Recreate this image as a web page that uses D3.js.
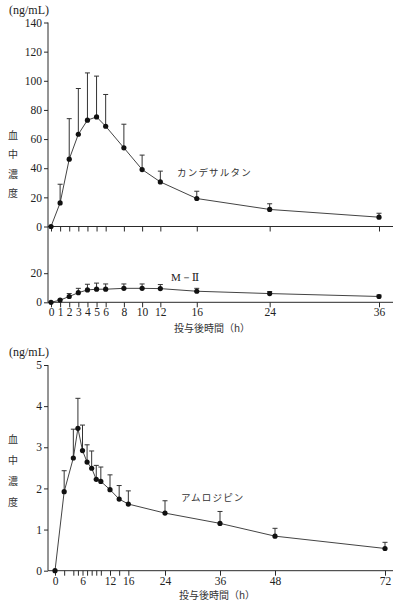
<!DOCTYPE html>
<html><head><meta charset="utf-8">
<script src="https://cdn.jsdelivr.net/npm/d3@7"></script>
<style>
html,body{margin:0;padding:0;background:#fff;}
svg{display:block;}
</style></head>
<body>
<script>
// Candesartan (upper chart)
const candTimes = [0,1,2,3,4,5,6,8,10,12,16,24,36];
const candMean  = [0,16.2,46.2,63.3,73,75.2,68.8,54,39.1,30.6,19.2,11.7,6.4];
const candSD    = [0,29,74,94.7,105.4,103.2,90.6,70.2,49,38,24.2,15.6,9.1]; // mean+SD tops
const m2Mean    = [0,1.5,4,6.6,8.5,9,9,9.6,9.6,9.4,7.6,6,4];
const m2Top     = [0,2,6,9.6,12.4,13.2,12.6,12.6,12.6,12.2,9.6,7.4,5];
const candYTicks = [0,20,40,60,80,100,120,140];
const m2YTicks = [0,20];
const candXLabels = [0,1,2,3,4,5,6,8,10,12,16,24,36];

// Amlodipine (lower chart)
const amloTimes = [0,2,4,5,6,7,8,9,10,12,14,16,24,36,48,72];
const amloMean  = [0,1.92,2.74,3.46,2.92,2.64,2.49,2.22,2.17,1.97,1.74,1.62,1.40,1.15,0.84,0.54];
const amloTop   = [0,2.43,3.44,4.19,3.54,3.06,2.91,2.56,2.52,2.33,2.07,1.94,1.70,1.44,1.03,0.69];
const amloYTicks = [0,1,2,3,4,5];
const amloXLabels = [0,6,12,16,24,36,48,72];

const yTitleChars = ["血","中","濃","度"];

const W = 399, H = 604, C = "#2a2a2a";
const SERIF = "'Liberation Serif','Times New Roman','DejaVu Serif',serif";
const JP = "'Noto Sans CJK JP','Noto Sans CJK SC',sans-serif";
const svg = d3.select("body").append("svg").attr("width",W).attr("height",H);

function num(sel, size){ return sel.attr("font-family",SERIF).style("font-family",SERIF).style("font-size",(size||11.5)+"px").style("fill","#222"); }
function jp(sel, size){ return sel.style("font-family",JP).style("font-size",(size||9.5)+"px").style("fill","#333"); }

function line(x1,y1,x2,y2){
  svg.append("line").attr("x1",x1).attr("y1",y1).attr("x2",x2).attr("y2",y2)
    .attr("stroke",C).attr("stroke-width",1);
}
function series(g, x, y, times, mean, top){
  const pts = times.map((t,i)=>({t, m:mean[i], u:top[i]}));
  g.append("path").datum(pts)
    .attr("d", d3.line().x(d=>x(d.t)).y(d=>y(d.m)))
    .attr("fill","none").attr("stroke","#444").attr("stroke-width",1);
  const eb = g.selectAll(".eb").data(pts.filter(d=>d.u>d.m)).enter().append("g");
  eb.append("line").attr("x1",d=>x(d.t)).attr("x2",d=>x(d.t))
    .attr("y1",d=>y(d.m)).attr("y2",d=>y(d.u)).attr("stroke","#333").attr("stroke-width",1);
  eb.append("line").attr("x1",d=>x(d.t)-2.5).attr("x2",d=>x(d.t)+2.5)
    .attr("y1",d=>y(d.u)).attr("y2",d=>y(d.u)).attr("stroke","#333").attr("stroke-width",1);
  g.selectAll(".pt").data(pts).enter().append("circle")
    .attr("cx",d=>x(d.t)).attr("cy",d=>y(d.m)).attr("r",2.6).attr("fill","#111");
}
function yAxis(scale, ticks, ax){
  const g = svg.append("g").attr("transform",`translate(${ax},0)`)
    .call(d3.axisLeft(scale).tickValues(ticks).tickSize(4).tickSizeOuter(0).tickPadding(2).tickFormat(d3.format("d")));
  g.attr("font-family",null).attr("font-size",null);
  g.select(".domain").remove();
  g.selectAll(".tick line").attr("stroke",C);
  num(g.selectAll(".tick text"));
  return g;
}
function xAxis(scale, ticks, labels, ay, ax0, ax1){
  line(ax0, ay, ax1, ay);
  const g = svg.append("g").attr("transform",`translate(0,${ay})`)
    .call(d3.axisBottom(scale).tickValues(ticks).tickSize(5).tickSizeOuter(0).tickPadding(1)
      .tickFormat(d => labels && labels.includes(d) ? d : ""));
  g.attr("font-family",null).attr("font-size",null);
  g.select(".domain").remove();
  g.selectAll(".tick line").attr("stroke",C);
  num(g.selectAll(".tick text"));
  return g;
}
function yTitle(x, y0, step){
  yTitleChars.forEach((c,i)=>{
    jp(svg.append("text").attr("x",x).attr("y",y0+i*step+3.5)
      .attr("text-anchor","middle").text(c), 10);
  });
}

// ---------- Upper chart ----------
const ax = 48;
const xT = d3.scaleLinear().domain([0,36]).range([51,379]);
const yT = d3.scaleLinear().domain([0,140]).range([226.5,22.5]);
const yM = d3.scaleLinear().domain([0,20]).range([302.3,273.2]);

line(ax, 22.5, ax, 302.3);
yAxis(yT, candYTicks, ax);
yAxis(yM, m2YTicks, ax);
xAxis(xT, candTimes, null, 226.5, ax, 393);
xAxis(xT, candTimes, candXLabels, 302.3, ax, 393);

const gT = svg.append("g");
series(gT, xT, yT, candTimes, candMean, candSD);
series(gT, xT, yM, candTimes, m2Mean, m2Top);

num(svg.append("text").attr("x",9).attr("y",14).text("(ng/mL)"), 12);
yTitle(13, 135, 19.5);
jp(svg.append("text").attr("x",177).attr("y",176).attr("letter-spacing","1.2px").text("カンデサルタン"));
num(svg.append("text").attr("x",171).attr("y",281).text("M－Ⅱ"), 11);
jp(svg.append("text").attr("x",212).attr("y",332).attr("text-anchor","middle").text("投与後時間（h）"), 10);

// ---------- Lower chart ----------
const xA = d3.scaleLinear().domain([0,72]).range([55,385]);
const yA = d3.scaleLinear().domain([0,5]).range([570.7,365]);
line(ax, 365, ax, 570.7);
yAxis(yA, amloYTicks, ax);
xAxis(xA, amloTimes, amloXLabels, 570.7, ax, 393);
const gA = svg.append("g");
series(gA, xA, yA, amloTimes, amloMean, amloTop);

num(svg.append("text").attr("x",9).attr("y",356).text("(ng/mL)"), 12);
yTitle(13, 439, 21);
jp(svg.append("text").attr("x",181).attr("y",501).attr("letter-spacing","1.2px").text("アムロジピン"));
jp(svg.append("text").attr("x",217).attr("y",599).attr("text-anchor","middle").text("投与後時間（h）"), 10);
</script>
</body></html>
